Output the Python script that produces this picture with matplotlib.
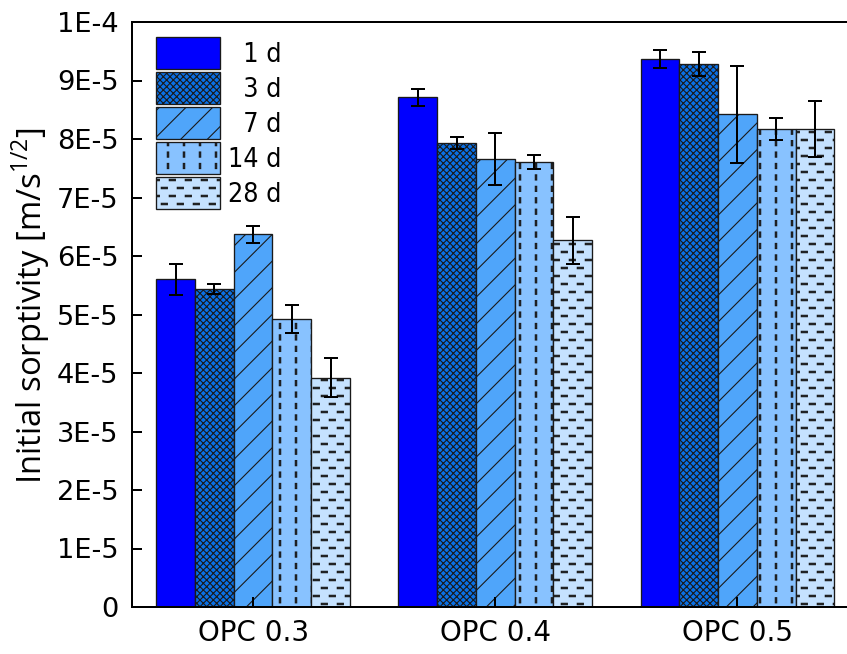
import numpy as np
import matplotlib
matplotlib.use("Agg")
import matplotlib.pyplot as plt
import matplotlib.hatch as mhatch
from matplotlib.path import Path

# ---- data -------------------------------------------------------------
groups = ["OPC 0.3", "OPC 0.4", "OPC 0.5"]
ages = ["1 d", "3 d", "7 d", "14 d", "28 d"]

sorp_1d = [5.60e-5, 8.71e-5, 9.37e-5]
sorp_3d = [5.43e-5, 7.93e-5, 9.28e-5]
sorp_7d = [6.37e-5, 7.66e-5, 8.42e-5]
sorp_14d = [4.93e-5, 7.61e-5, 8.17e-5]
sorp_28d = [3.92e-5, 6.27e-5, 8.17e-5]

err_1d = [0.26e-5, 0.145e-5, 0.15e-5]
err_3d = [0.085e-5, 0.10e-5, 0.21e-5]
err_7d = [0.14e-5, 0.45e-5, 0.835e-5]
err_14d = [0.24e-5, 0.12e-5, 0.185e-5]
err_28d = [0.33e-5, 0.40e-5, 0.48e-5]

ytick_values = [0, 1e-5, 2e-5, 3e-5, 4e-5, 5e-5, 6e-5, 7e-5, 8e-5, 9e-5, 1e-4]
ytick_labels = ["0", "1E-5", "2E-5", "3E-5", "4E-5", "5E-5",
                "6E-5", "7E-5", "8E-5", "9E-5", "1E-4"]

DPI = 80          # hatch tile = 1 inch = 80 px
W, H = 847, 654


def _rects(vertices, codes, x0, x1, y0, y1):
    """Write closed rectangles (arrays of corners) into hatch buffers."""
    n = len(x0)
    v = vertices.reshape(n, 5, 2)
    c = codes.reshape(n, 5)
    v[:, 0, 0], v[:, 0, 1] = x0, y0
    v[:, 1, 0], v[:, 1, 1] = x1, y0
    v[:, 2, 0], v[:, 2, 1] = x1, y1
    v[:, 3, 0], v[:, 3, 1] = x0, y1
    v[:, 4, 0], v[:, 4, 1] = x0, y0
    c[:, 0] = Path.MOVETO
    c[:, 1:4] = Path.LINETO
    c[:, 4] = Path.CLOSEPOLY


# ---- dashed hatch patterns (short thick vertical / horizontal dashes) --
class DashedVertical(mhatch.HatchPatternBase):
    def __init__(self, hatch, density):
        n = hatch.count("|")
        self.cols = 5 * n
        self.rows = 7 * n
        self.num_vertices = self.cols * self.rows * 5

    def set_vertices_and_codes(self, vertices, codes):
        xs = (np.arange(self.cols) + 0.5) / self.cols
        ys = np.arange(self.rows) / self.rows
        X, Y = np.meshgrid(xs, ys)
        X, Y = X.ravel(), Y.ravel()
        step = 1.0 / self.rows
        hw = 0.7 / DPI
        _rects(vertices, codes, X - hw, X + hw,
               Y + 0.25 * step, Y + 0.70 * step)


class DashedHorizontal(mhatch.HatchPatternBase):
    def __init__(self, hatch, density):
        n = hatch.count("-")
        self.rows = 10 * n
        self.cols = 5 * n
        self.num_vertices = self.cols * self.rows * 5

    def set_vertices_and_codes(self, vertices, codes):
        step = 1.0 / self.cols
        xs = np.arange(self.cols) / self.cols
        ys = (np.arange(self.rows) + 0.5) / self.rows
        X, Y = np.meshgrid(xs, ys)
        shift = (np.arange(self.rows) % 2)[:, None] * 0.5 * step
        X = (X + shift).ravel()
        Y = Y.ravel()
        hw = 0.7 / DPI
        _rects(vertices, codes, X + 0.08 * step, X + 0.46 * step,
               Y - hw, Y + hw)


mhatch._hatch_types = [
    DashedHorizontal if t is mhatch.HorizontalHatch else
    DashedVertical if t is mhatch.VerticalHatch else t
    for t in mhatch._hatch_types
]

# ---- figure -----------------------------------------------------------
plt.rcParams["font.family"] = ["DejaVu Sans"]
plt.rcParams["hatch.linewidth"] = 1.0

fig = plt.figure(figsize=(W / DPI, H / DPI), dpi=DPI)
ax = fig.add_axes([132 / W, 47 / H, 726.5 / W, 585 / H])

series = [
    (sorp_1d, err_1d, "#0000FF", None),
    (sorp_3d, err_3d, "#0A70E6", "xxxx"),
    (sorp_7d, err_7d, "#4FA5FA", "/"),
    (sorp_14d, err_14d, "#88C2FF", "|"),
    (sorp_28d, err_28d, "#C5E2FF", "-"),
]

x = np.arange(len(groups))
width = 0.16
offsets = (np.arange(len(ages)) - 2) * width

handles = []
for i, (vals, errs, color, hatch) in enumerate(series):
    bars = ax.bar(x + offsets[i], vals, width, yerr=errs, color=color,
                  edgecolor="#1a1a1a", linewidth=1.2, hatch=hatch,
                  label=ages[i], zorder=2,
                  error_kw=dict(ecolor="black", elinewidth=1.8,
                                capsize=6.5, capthick=1.8, zorder=3))
    handles.append(bars)

ax.set_xlim(-0.5, 2.5)
ax.set_ylim(0, 1e-4)
ax.set_xticks(x)
ax.set_xticklabels(groups)
ax.set_yticks(ytick_values)
ax.set_yticklabels(ytick_labels)
ax.set_axisbelow(False)

for s in ax.spines.values():
    s.set_linewidth(1.8)
ax.tick_params(axis="both", direction="in", length=9, width=1.8,
               top=False, right=False)
ax.tick_params(axis="y", labelsize=24.5, pad=12)
ax.tick_params(axis="x", labelsize=25, pad=11)

ax.set_ylabel("Initial sorptivity [m/s$^{\\mathregular{1/2}}$]",
              fontsize=29.5, family="Open Sans")
ax.yaxis.set_label_coords(-0.110, 0.515)

# legend: right-aligned labels via figure spaces
labels = [("\u2007" + a) if len(a) == 3 else a for a in ages]
leg = ax.legend(handles, labels, loc="upper left",
                bbox_to_anchor=(0.0326, 0.974), frameon=False,
                borderpad=0, borderaxespad=0, handlelength=2.4,
                handleheight=1.47, labelspacing=0.11, handletextpad=0.3,
                prop=dict(family="DejaVu Sans", size=24, stretch="condensed"))
for p in leg.get_patches():
    p.set_linewidth(1.2)

fig.savefig("out.png", dpi=DPI)
